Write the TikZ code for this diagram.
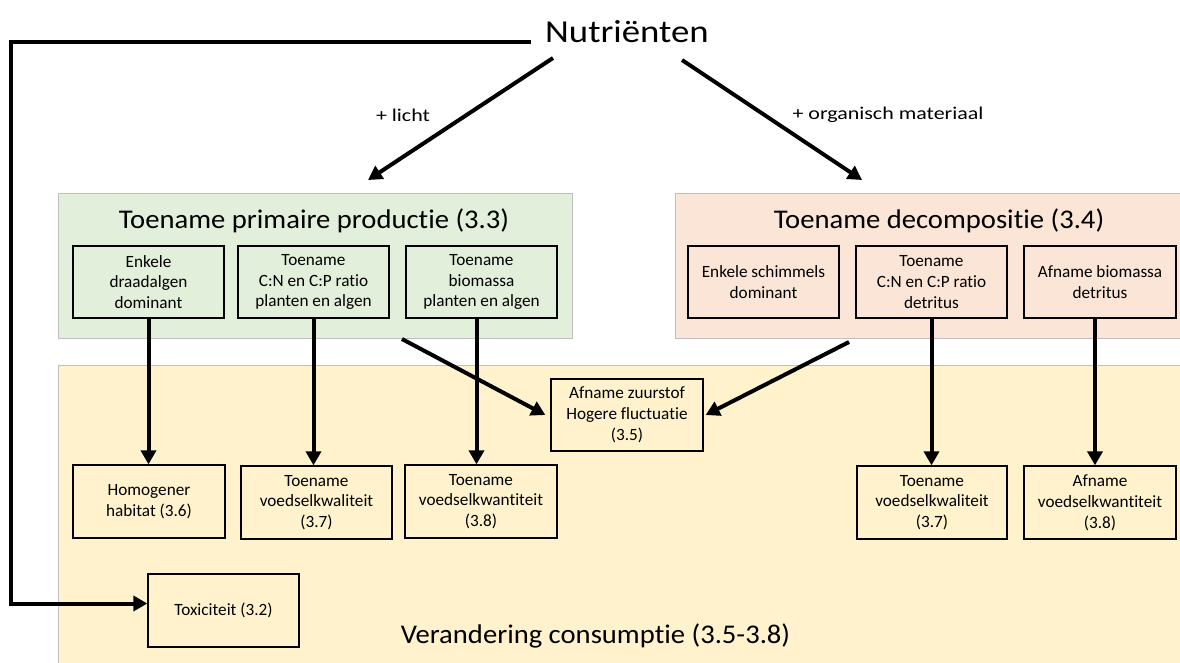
\documentclass[tikz,border=0pt]{standalone}
\usepackage{fontspec}
\setmainfont{Carlito}[Ligatures=NoCommon]
\usetikzlibrary{arrows.meta}
\definecolor{pgreen}{RGB}{226,239,218}
\definecolor{porange}{RGB}{251,229,214}
\definecolor{pyellow}{RGB}{255,242,204}
\definecolor{pgray}{RGB}{191,191,191}
\newcommand{\hsc}[2]{\scalebox{#1}[1]{#2}}
\tikzset{
  panel/.style={draw=pgray, line width=1pt},
  sbox/.style={draw=black, line width=1.3pt, minimum width=151pt, minimum height=72pt,
    align=center, inner sep=0pt, font=\fontsize{17.2}{20.8}\selectfont},
  arr/.style={line width=4pt, -{Triangle[length=14pt,width=15pt]}},
  bigtitle/.style={font=\fontsize{27}{31}\selectfont, inner sep=0pt, anchor=base},
  lbl/.style={font=\fontsize{18}{22}\selectfont, inner sep=0pt}
}
\begin{document}
\begin{tikzpicture}[x=1pt,y=-1pt]
\useasboundingbox (0,0) rectangle (1180,662);
% panels
\filldraw[panel, fill=pyellow] (58,365) rectangle (1183,666);
\filldraw[panel, fill=pgreen] (58,193) rectangle (572,338);
\filldraw[panel, fill=porange] (675,193) rectangle (1183,338);
% titles
\node[font=\fontsize{32}{36}\selectfont, inner sep=0pt, anchor=base] (nut) at (627,42) {\hsc{1.15}{Nutriënten}};
\node[bigtitle] (tg) at (314,228) {\hsc{1.06}{Toename primaire productie (3.3)}};
\node[bigtitle] (to) at (939,228) {\hsc{1.06}{Toename decompositie (3.4)}};
\node[bigtitle] (ty) at (595.5,643) {\hsc{1.06}{Verandering consumptie (3.5-3.8)}};
\node[lbl] (l1) at (403,115) {\hsc{1.22}{+ licht}};
\node[lbl] (l2) at (888,115) {\hsc{1.22}{+ organisch materiaal}};
% upper boxes
\node[sbox, fill=pgreen] (b1) at (148.5,282) {Enkele\\draadalgen\\dominant};
\node[sbox, fill=pgreen] (b2) at (313.5,282) {Toename\\C:N en C:P ratio\\planten en algen};
\node[sbox, fill=pgreen] (b3) at (481.5,282) {Toename\\biomassa\\planten en algen};
\node[sbox, fill=porange] (b4) at (763.5,282) {Enkele schimmels\\dominant};
\node[sbox, fill=porange] (b5) at (931.5,282) {Toename\\C:N en C:P ratio\\detritus};
\node[sbox, fill=porange, minimum width=152pt] (b6) at (1100,282) {Afname biomassa\\detritus};
% lower boxes
\node[sbox, minimum width=152pt] (oxy) at (627,415) {Afname zuurstof\\Hogere fluctuatie\\(3.5)};
\node[sbox, minimum width=152pt, minimum height=73pt] (k1) at (149,501.5) {Homogener\\habitat (3.6)};
\node[sbox, minimum height=73pt] (k2) at (316.5,502.5) {Toename\\voedselkwaliteit\\(3.7)};
\node[sbox, minimum width=152pt, minimum height=73pt] (k3) at (481,501.5) {Toename\\voedselkwantiteit\\(3.8)};
\node[sbox, minimum width=150pt, minimum height=73pt] (k4) at (932,502.5) {Toename\\voedselkwaliteit\\(3.7)};
\node[sbox, minimum width=152pt, minimum height=73pt] (k5) at (1100,502.5) {Afname\\voedselkwantiteit\\(3.8)};
\node[sbox, minimum width=151pt, minimum height=73pt] (tox) at (223.5,610.5) {Toxiciteit (3.2)};
% connector end points
\coordinate (n1) at (553,58);
\coordinate (g1) at (368,180);
\coordinate (n2) at (682,60);
\coordinate (o1) at (862,180);
\coordinate (nl) at (531,42);
\coordinate (c1) at (11,42);
\coordinate (gs) at (402,339);
\coordinate (os) at (849,342);
% connectors
\draw[arr] (n1) -- (g1);
\draw[arr] (n2) -- (o1);
\draw[arr] (nl) -- (c1) |- ([yshift=7pt]tox.west);
\draw[arr] (b1.south) -- (b1.south |- k1.north);
\draw[arr] (b2.south) -- (b2.south |- k2.north);
\draw[arr] ([xshift=-5pt]b3.south) -- ([xshift=-5pt]b3.south |- k3.north);
\draw[arr] (b5.south) -- (b5.south |- k4.north);
\draw[arr] ([xshift=-5pt]b6.south) -- ([xshift=-5pt]b6.south |- k5.north);
\draw[arr] (gs) -- ([xshift=-5pt]oxy.west);
\draw[arr] (os) -- ([xshift=2pt]oxy.east);
\end{tikzpicture}
\end{document}
